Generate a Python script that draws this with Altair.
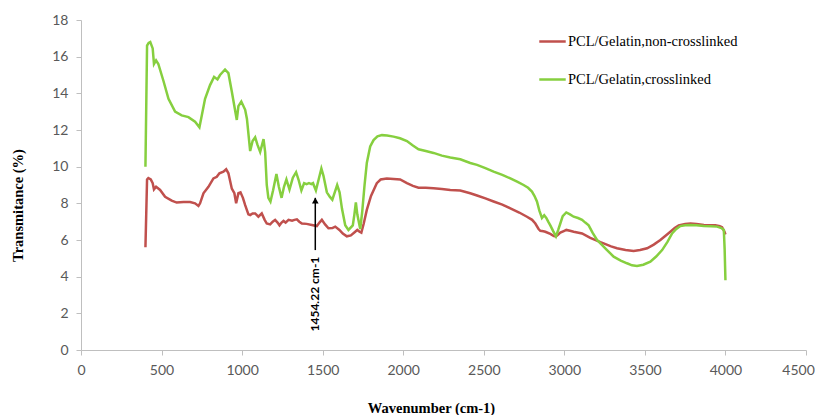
import altair as alt
import pandas as pd

# --- data ---
green_x = [400, 410, 420, 430, 445, 453, 466, 480, 511, 543, 584, 625, 667, 708, 735, 750, 770, 801, 826, 847,
           863, 894, 915, 936, 946, 967, 977, 995, 1019, 1030, 1050, 1065, 1081, 1095, 1112, 1133, 1143, 1153,
           1163, 1176, 1192, 1213, 1228, 1245, 1260, 1275, 1294, 1315, 1335, 1350, 1368, 1385, 1400, 1415, 1430,
           1440, 1458, 1475, 1492, 1505, 1526, 1545, 1560, 1575, 1590, 1605, 1620, 1640, 1660, 1687, 1697, 1706,
           1715, 1733, 1745, 1760, 1774, 1795, 1816, 1840, 1868, 1900, 1940, 1980, 2023, 2060, 2095, 2140, 2188,
           2240, 2292, 2354, 2416, 2458, 2510, 2561, 2615, 2665, 2710, 2747, 2775, 2799, 2815, 2830, 2845, 2861,
           2875, 2888, 2900, 2913, 2930, 2948, 2962, 2975, 2990, 3012, 3035, 3058, 3085, 3110, 3130, 3151, 3175,
           3203, 3224, 3265, 3306, 3350, 3389, 3420, 3451, 3490, 3534, 3570, 3607, 3640, 3669, 3695, 3720, 3750,
           3783, 3820, 3866, 3910, 3948, 3975, 3990, 3995, 4000]
green_y = [10.0, 16.6, 16.75, 16.8, 16.45, 15.6, 15.8, 15.6, 14.7, 13.7, 13.0, 12.8, 12.7, 12.45, 12.15, 12.8,
           13.7, 14.45, 14.9, 14.76, 15.0, 15.3, 15.1, 14.1, 13.6, 12.55, 13.3, 13.55, 13.1, 12.6, 10.85, 11.4,
           11.6, 11.2, 10.8, 11.5, 10.8, 9.0, 8.3, 8.1, 8.7, 9.6, 8.9, 8.3, 8.9, 9.3, 8.75, 9.4, 9.7, 9.3, 8.7,
           9.1, 9.05, 9.1, 9.05, 9.1, 8.7, 9.3, 9.9, 9.5, 8.6, 8.35, 8.2, 8.6, 9.0, 8.6, 7.7, 6.8, 6.55, 6.8,
           7.4, 8.05, 7.4, 6.6, 7.5, 9.0, 10.2, 11.1, 11.45, 11.65, 11.72, 11.7, 11.64, 11.55, 11.4, 11.15,
           10.95, 10.85, 10.75, 10.6, 10.5, 10.4, 10.2, 10.1, 9.92, 9.73, 9.55, 9.36, 9.17, 9.0, 8.85, 8.64,
           8.4, 8.1, 7.6, 7.2, 7.35, 7.2, 7.0, 6.8, 6.5, 6.2, 6.55, 6.9, 7.3, 7.5, 7.4, 7.27, 7.2, 7.1, 6.95,
           6.8, 6.4, 6.0, 5.82, 5.45, 5.09, 4.88, 4.73, 4.62, 4.58, 4.65, 4.82, 5.1, 5.45, 5.9, 6.36, 6.6,
           6.76, 6.8, 6.82, 6.8, 6.76, 6.75, 6.73, 6.65, 6.55, 5.5, 3.8]

red_x = [400, 410, 418, 433, 445, 453, 466, 491, 522, 563, 594, 636, 677, 708, 729, 739, 760, 791, 822, 843,
         859, 884, 901, 915, 936, 952, 963, 977, 990, 1005, 1019, 1039, 1050, 1065, 1081, 1101, 1122, 1140,
         1153, 1174, 1190, 1205, 1220, 1232, 1245, 1257, 1270, 1288, 1310, 1325, 1340, 1355, 1371, 1400, 1433,
         1464, 1480, 1495, 1515, 1536, 1560, 1578, 1604, 1625, 1650, 1675, 1702, 1715, 1729, 1740, 1755, 1774,
         1800, 1836, 1860, 1898, 1940, 1981, 2023, 2060, 2095, 2140, 2188, 2240, 2292, 2354, 2416, 2458, 2510,
         2561, 2615, 2665, 2720, 2768, 2800, 2820, 2840, 2851, 2870, 2882, 2913, 2935, 2948, 2962, 2975, 3000,
         3012, 3035, 3058, 3110, 3161, 3224, 3244, 3290, 3327, 3380, 3430, 3470, 3514, 3555, 3596, 3630, 3658,
         3685, 3710, 3750, 3783, 3820, 3866, 3900, 3938, 3965, 3979, 3994, 4000]
red_y = [5.6, 9.3, 9.38, 9.3, 9.1, 8.76, 8.9, 8.73, 8.36, 8.15, 8.04, 8.07, 8.07, 8.0, 7.86, 8.0, 8.55, 8.9,
         9.36, 9.45, 9.64, 9.73, 9.86, 9.64, 8.8, 8.55, 8.0, 8.55, 8.6, 8.3, 7.9, 7.4, 7.36, 7.45, 7.45, 7.27,
         7.45, 7.1, 6.9, 6.85, 7.0, 7.1, 6.95, 6.8, 6.95, 7.04, 6.95, 7.1, 7.05, 7.1, 7.13, 7.0, 6.9, 6.88,
         6.82, 6.76, 6.95, 7.1, 6.85, 6.64, 6.65, 6.73, 6.55, 6.35, 6.2, 6.25, 6.45, 6.55, 6.45, 6.4, 6.9,
         7.64, 8.4, 9.1, 9.3, 9.36, 9.33, 9.3, 9.1, 8.95, 8.85, 8.85, 8.82, 8.78, 8.73, 8.7, 8.55, 8.43, 8.27,
         8.1, 7.93, 7.73, 7.5, 7.27, 7.1, 6.9, 6.6, 6.5, 6.48, 6.45, 6.33, 6.22, 6.2, 6.3, 6.4, 6.5, 6.55,
         6.5, 6.45, 6.36, 6.12, 5.88, 5.82, 5.65, 5.55, 5.45, 5.4, 5.45, 5.55, 5.75, 6.0, 6.25, 6.45, 6.65,
         6.8, 6.88, 6.9, 6.87, 6.82, 6.8, 6.8, 6.75, 6.7, 6.45, 6.3]

series_names = ["PCL/Gelatin,non-crosslinked", "PCL/Gelatin,crosslinked"]
series_colors = ["#C0504D", "#86CF3F"]

ann_x = [1454.22]
ann_y_start = [5.45]
ann_y_end = [8.3]
ann_head_y = [8.15]
ann_label_y = [3.05]
ann_label = ["1454.22 cm-1"]

x_ticks = [0, 500, 1000, 1500, 2000, 2500, 3000, 3500, 4000, 4500]
y_ticks = [0, 2, 4, 6, 8, 10, 12, 14, 16, 18]

# --- tables ---
df = pd.concat([
    pd.DataFrame({"x": red_x, "y": red_y, "series": series_names[0], "order": range(len(red_x))}),
    pd.DataFrame({"x": green_x, "y": green_y, "series": series_names[1], "order": range(len(green_x))}),
])
ann = pd.DataFrame({"x": ann_x, "y": ann_y_start, "y2": ann_y_end, "hy": ann_head_y,
                    "ly": ann_label_y, "label": ann_label})

xscale = alt.Scale(domain=[0, 4500], nice=False)
yscale = alt.Scale(domain=[0, 18], nice=False)

xaxis = alt.Axis(values=x_ticks, grid=False, title="Wavenumber (cm-1)", titleX=350, titleY=58,
                 titleBaseline="middle", labelPadding=8, format="d", labelOverlap=False, labelFlush=False,
                 labelOffset={"condition": {"test": "datum.value == 4500", "value": -8}, "value": 0})
yaxis = alt.Axis(values=y_ticks, grid=False, title="Transmitance (%)", titleX=-63, titleY=185,
                 titleBaseline="middle", labelPadding=8, format="d", labelOverlap=False, labelBound=False,
                 labelFlush=False)

lines = alt.Chart(df).mark_line(strokeWidth=2.5).encode(
    x=alt.X("x:Q", scale=xscale, axis=xaxis),
    y=alt.Y("y:Q", scale=yscale, axis=yaxis),
    color=alt.Color("series:N", scale=alt.Scale(domain=series_names, range=series_colors), title=None,
                    legend=alt.Legend(orient="none", legendX=457, legendY=7, symbolType="stroke",
                                      symbolSize=700, symbolStrokeWidth=2.5, labelFont="Liberation Serif",
                                      labelFontSize=14.5, labelColor="#000000", rowPadding=17,
                                      labelOffset=1, padding=0, labelLimit=400)),
    order="order:Q",
)

arrow = alt.Chart(ann).mark_rule(color="#000000", strokeWidth=1.5).encode(
    x=alt.X("x:Q", scale=xscale, axis=xaxis), y=alt.Y("y:Q", scale=yscale, axis=yaxis), y2="y2:Q")
head = alt.Chart(ann).mark_point(shape="triangle-up", filled=True, color="#000000", size=45, opacity=1).encode(
    x=alt.X("x:Q", scale=xscale, axis=xaxis), y=alt.Y("hy:Q", scale=yscale, axis=yaxis))
label = alt.Chart(ann).mark_text(angle=270, font="Lato", fontSize=12, fontWeight="bold", color="#000000").encode(
    x=alt.X("x:Q", scale=xscale, axis=xaxis), y=alt.Y("ly:Q", scale=yscale, axis=yaxis), text="label:N")

chart = alt.layer(lines, arrow, head, label).properties(
    width=725, height=330,
    autosize=alt.AutoSizeParams(type="none"),
    padding={"left": 73, "top": 12, "right": 9, "bottom": 65},
).configure_view(stroke=None).configure_axis(
    domainColor="#BFBFBF", tickColor="#BFBFBF", tickSize=5, labelFont="Lato", labelFontSize=14,
    labelColor="#595959", titleFont="Liberation Serif", titleFontSize=14.5, titleFontWeight="bold",
    titleColor="#000000", labelOverlap=False,
)

chart.save("out.html", embed_options={"renderer": "svg", "actions": False})
